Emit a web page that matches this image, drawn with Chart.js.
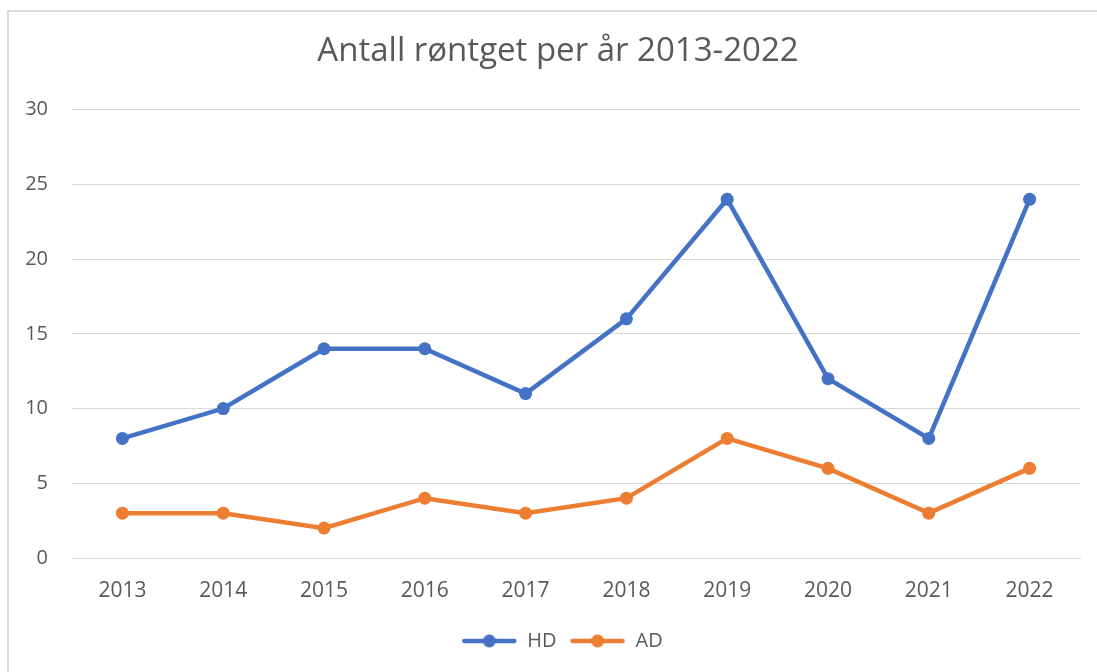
<!DOCTYPE html>
<html>
<head>
<meta charset="utf-8">
<script src="https://cdn.jsdelivr.net/npm/chart.js@4.4.1/dist/chart.umd.min.js"></script>
<style>
    html, body { margin: 0; padding: 0; background: #fff; overflow: hidden; }
    #wrap { position: relative; width: 1097px; height: 672px; }
    #frame {
        position: absolute; left: 7px; top: 10px; width: 1200px; height: 800px;
        border: 2px solid #dadada; box-sizing: border-box; pointer-events: none;
    }
</style>
</head>
<body>
<div id="wrap">
    <canvas id="chart" width="1097" height="672"></canvas>
    <div id="frame"></div>
</div>
<script>
const years = ['2013', '2014', '2015', '2016', '2017', '2018', '2019', '2020', '2021', '2022'];
const hdValues = [8, 10, 14, 14, 11, 16, 24, 12, 8, 24];
const adValues = [3, 3, 2, 4, 3, 4, 8, 6, 3, 6];
const yTicks = [0, 5, 10, 15, 20, 25, 30];

const textColor = '#595959';
const gridColor = '#d9d9d9';
const fontFamily = '"Open Sans", "Noto Sans", sans-serif';

// small line-with-dot swatch used as the legend symbol
function legendSwatch(color) {
    const c = document.createElement('canvas');
    c.width = 56;
    c.height = 14;
    const ctx = c.getContext('2d');
    ctx.strokeStyle = color;
    ctx.lineWidth = 4.5;
    ctx.lineCap = 'round';
    ctx.beginPath();
    ctx.moveTo(3, 7);
    ctx.lineTo(53, 7);
    ctx.stroke();
    ctx.fillStyle = color;
    ctx.beginPath();
    ctx.arc(28, 7, 6.5, 0, Math.PI * 2);
    ctx.fill();
    return c;
}

function series(label, data, color) {
    return {
        label: label,
        data: data,
        borderColor: color,
        backgroundColor: color,
        borderWidth: 4.5,
        pointRadius: 6.5,
        pointHoverRadius: 6.5,
        pointBorderWidth: 0,
        pointStyle: 'circle',
        legendStyle: legendSwatch(color),
        tension: 0
    };
}

const datasets = [
    series('HD', hdValues, '#4472c4'),
    series('AD', adValues, '#ed7d31')
];

// title and legend sit centred on the whole frame, a bit right of the plot centre
const shiftBlocks = {
    id: 'shiftBlocks',
    afterLayout: function(chart) {
        if (chart.titleBlock) {
            chart.titleBlock.left += 18;
            chart.titleBlock.right += 18;
        }
        if (chart.legend) {
            chart.legend.left += 22;
            chart.legend.right += 22;
        }
    }
};

new Chart(document.getElementById('chart').getContext('2d'), {
    type: 'line',
    data: { labels: years, datasets: datasets },
    plugins: [shiftBlocks],
    options: {
        responsive: false,
        animation: false,
        layout: { padding: { left: 0, right: 17, top: 0, bottom: 11 } },
        plugins: {
            title: {
                display: true,
                text: 'Antall røntget per år 2013-2022',
                color: textColor,
                font: { family: fontFamily, size: 33, weight: 'normal' },
                padding: { top: 32, bottom: 38 }
            },
            legend: {
                position: 'bottom',
                labels: {
                    color: textColor,
                    font: { family: fontFamily, size: 20 },
                    usePointStyle: true,
                    pointStyleWidth: 56,
                    padding: 13,
                    generateLabels: function(chart) {
                        return chart.data.datasets.map(function(ds, i) {
                            return {
                                text: ds.label,
                                fillStyle: ds.borderColor,
                                strokeStyle: ds.borderColor,
                                pointStyle: ds.legendStyle,
                                fontColor: textColor,
                                lineWidth: 0,
                                hidden: false,
                                datasetIndex: i
                            };
                        });
                    }
                }
            },
            tooltip: { enabled: false }
        },
        scales: {
            x: {
                offset: true,
                grid: { display: false, drawTicks: false, offset: true },
                border: { display: true, color: gridColor, width: 1 },
                ticks: {
                    color: textColor,
                    font: { family: fontFamily, size: 21 },
                    padding: 20,
                    maxRotation: 0
                },
                afterFit: function(scale) { scale.height = 60; }
            },
            y: {
                min: 0,
                max: 30,
                afterBuildTicks: function(scale) {
                    scale.ticks = yTicks.map(function(v) { return { value: v }; });
                },
                grid: { color: gridColor, lineWidth: 1, drawTicks: false },
                border: { display: false },
                ticks: {
                    color: textColor,
                    font: { family: fontFamily, size: 20 },
                    padding: 24
                },
                afterFit: function(scale) { scale.width = 72; }
            }
        }
    }
});
</script>
</body>
</html>
